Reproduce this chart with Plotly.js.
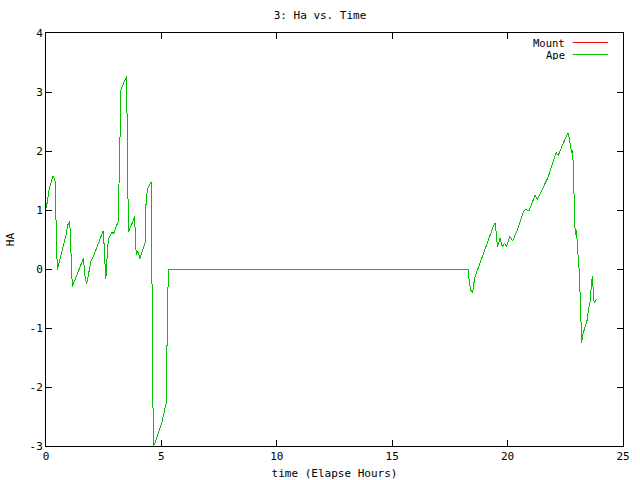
<!DOCTYPE html>
<html>
<head>
<meta charset="utf-8">
<script src="https://cdn.plot.ly/plotly-3.0.1.min.js"></script>
<style>
html,body{margin:0;padding:0;background:#fff;}
#chart{width:640px;height:480px;}
#chart .scatterlayer path {shape-rendering: crispEdges;}
</style>
</head>
<body>
<div id="chart"></div>
<script>
const hours = [0.00,0.04,0.13,0.20,0.30,0.39,0.42,0.45,0.49,0.85,0.95,1.03,1.05,1.10,1.14,1.62,1.70,1.76,1.89,1.96,2.08,2.48,2.51,2.56,2.59,2.63,2.66,2.73,2.85,2.92,3.02,3.12,3.16,3.21,3.25,3.35,3.50,3.51,3.54,3.57,3.71,3.83,3.86,3.89,3.91,3.97,4.07,4.29,4.33,4.39,4.55,4.58,4.62,4.65,4.72,5.01,5.20,5.23,5.26,5.30,18.30,18.34,18.41,18.49,18.54,18.59,19.38,19.47,19.53,19.57,19.67,19.76,19.86,19.96,20.10,20.22,20.39,20.68,20.78,20.93,21.19,21.29,21.76,22.10,22.20,22.56,22.63,22.67,22.73,22.78,22.82,22.85,22.89,22.93,22.99,23.02,23.11,23.14,23.17,23.21,23.25,23.35,23.45,23.50,23.59,23.63,23.68,23.70,23.75,23.82,23.86];
const haApe = [1.03,1.10,1.34,1.45,1.58,1.50,0.92,0.32,-0.02,0.55,0.75,0.81,0.55,0.21,-0.30,0.18,-0.16,-0.25,-0.02,0.15,0.24,0.65,0.46,0.04,-0.17,0.01,0.35,0.52,0.63,0.59,0.69,0.80,1.38,2.47,3.03,3.14,3.27,2.64,1.28,0.63,0.75,0.89,0.69,0.41,0.24,0.31,0.18,0.44,1.08,1.34,1.48,0.38,-1.88,-3.00,-2.95,-2.62,-2.28,-1.71,-0.75,0.00,0.00,-0.24,-0.36,-0.40,-0.24,-0.13,0.72,0.78,0.49,0.38,0.52,0.38,0.43,0.39,0.55,0.48,0.63,0.97,1.01,0.99,1.25,1.18,1.56,1.97,1.93,2.27,2.30,2.21,2.05,1.96,2.02,1.65,0.94,0.58,0.66,0.41,-0.07,-0.53,-1.00,-1.25,-1.12,-0.97,-0.86,-0.69,-0.53,-0.24,-0.12,-0.30,-0.58,-0.53,-0.51];
const haMount = haApe.slice();
const seriesNames = ['Mount', 'Ape'];
const seriesColors = ['#ff0000', '#00c000'];
const xTicks = [0,5,10,15,20,25];
const yTicks = [-3,-2,-1,0,1,2,3,4];

const font = {family: '"DejaVu Sans Mono", "Liberation Mono", monospace', size: 11, color: '#000'};
const keyFont = {family: font.family, size: 10.5, color: '#000'};
const traces = [
  {x: hours, y: haMount, type: 'scatter', mode: 'lines', name: seriesNames[0], line: {color: seriesColors[0], width: 1}},
  {x: hours, y: haApe, type: 'scatter', mode: 'lines', name: seriesNames[1], line: {color: seriesColors[1], width: 1}}
];
const axisCommon = {showgrid: false, zeroline: false, showline: true, linecolor: '#000', linewidth: 1,
  mirror: 'ticks', ticks: 'inside', ticklen: 6, tickcolor: '#000', tickwidth: 1, tickfont: font};

// gnuplot-style key: label text right-aligned, then a line sample
const legendRowY = [0.977, 0.948];
const annotations = seriesNames.map((n, i) => ({
  xref: 'paper', yref: 'paper', x: 0.901, y: legendRowY[i], xanchor: 'right', yanchor: 'middle',
  text: n, showarrow: false, font: keyFont, height: 11, valign: 'middle', borderpad: 0
}));
const shapes = seriesNames.map((n, i) => ({
  type: 'line', xref: 'paper', yref: 'paper', x0: 0.913, x1: 0.974, y0: legendRowY[i], y1: legendRowY[i],
  line: {color: seriesColors[i], width: 1}, layer: 'above'
}));

const layout = {
  width: 640, height: 480,
  margin: {l: 46, r: 17, t: 33, b: 34},
  paper_bgcolor: '#fff', plot_bgcolor: '#fff',
  font: font,
  title: {text: '3: Ha vs. Time', font: font, x: 0.5, xanchor: 'center', y: 0.968, yanchor: 'middle'},
  xaxis: Object.assign({}, axisCommon, {range: [0, 25], tickvals: xTicks, ticktext: xTicks.map(String),
    title: {text: 'time (Elapse Hours)', font: font, standoff: 7}}),
  yaxis: Object.assign({}, axisCommon, {range: [-3, 4], tickvals: yTicks, ticktext: yTicks.map(String),
    title: {text: 'HA', font: font, standoff: 12}}),
  showlegend: false,
  annotations: annotations,
  shapes: shapes
};
Plotly.newPlot('chart', traces, layout, {displayModeBar: false, staticPlot: true});
</script>
</body>
</html>
